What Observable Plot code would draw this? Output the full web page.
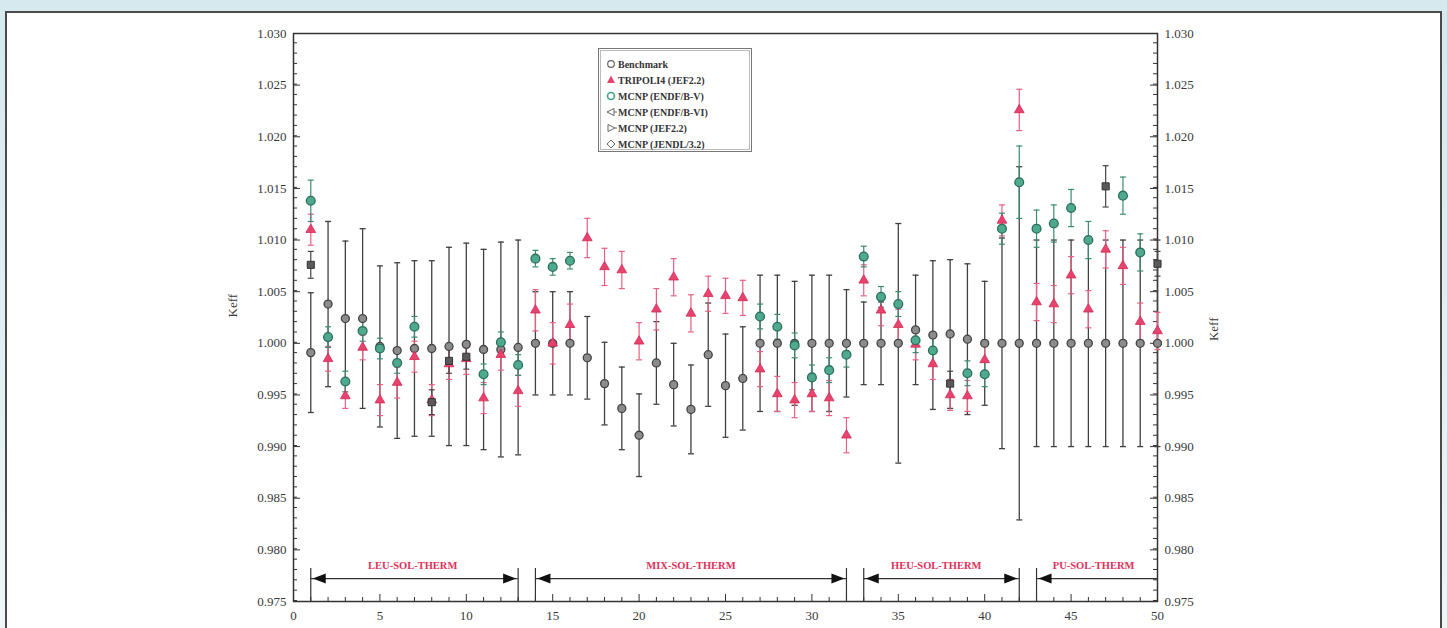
<!DOCTYPE html>
<html>
<head>
<meta charset="utf-8">
<script src="https://cdn.jsdelivr.net/npm/d3@7"></script>
<script src="https://cdn.jsdelivr.net/npm/@observablehq/plot@0.6"></script>
<style>
  html, body { margin: 0; padding: 0; }
  body { width: 1447px; height: 628px; overflow: hidden; position: relative;
         background: linear-gradient(180deg, #d5e9ee 0%, #e2f0f3 60%, #eef6f8 100%); font-family: 'Liberation Serif', 'Times New Roman', serif; }
  #panel { position: absolute; left: 5px; top: 11px; width: 1437px; height: 640px; background: #fff;
           border: 2px solid #4a4a4a; border-bottom: none; box-sizing: border-box; }
  #chart { position: absolute; left: 0; top: 0; }
  #legend { position: absolute; left: 598px; top: 48px; width: 154px; height: 104px; box-sizing: border-box;
            border: 1px solid #777; outline: 1px solid #bbb; outline-offset: -3px; background: #fff; }
  .row { position: absolute; left: 6px; height: 14px; display: flex; align-items: center; font-size: 10px; font-weight: bold; color: #333; white-space: nowrap; }
  .row svg { margin-right: 1px; }
</style>
</head>
<body>
<div id="panel"></div>
<div id="chart"></div>
<div id="legend"></div>
<script>
// ---- data ----
const cases = [1,2,3,4,5,6,7,8,9,10,11,12,13,14,15,16,17,18,19,20,21,22,23,24,25,26,27,28,29,30,31,32,33,34,35,36,37,38,39,40,41,42,43,44,45,46,47,48,49,50];

const benchmark = [0.9991,1.0038,1.0024,1.0024,0.9997,0.9993,0.9995,0.9995,0.9997,0.9999,0.9994,0.9994,0.9996,
  1.0000,1.0000,1.0000,0.9986,0.9961,0.9937,0.9911,0.9981,0.9960,0.9936,0.9989,0.9959,0.9966,1.0000,1.0000,1.0000,1.0000,1.0000,1.0000,
  1.0000,1.0000,1.0000,1.0013,1.0008,1.0009,1.0004,1.0000,
  1.0000,1.0000,1.0000,1.0000,1.0000,1.0000,1.0000,1.0000,1.0000,1.0000];
const benchmarkErr = [0.0058,0.0080,0.0075,0.0087,0.0078,0.0085,0.0085,0.0085,0.0096,0.0098,0.0097,0.0104,0.0104,
  0.0050,0.0050,0.0050,0.0040,0.0040,0.0040,0.0040,0.0040,0.0040,0.0043,0.0050,0.0050,0.0050,0.0066,0.0066,0.0060,0.0066,0.0066,0.0052,
  0.0040,0.0040,0.0116,0.0053,0.0072,0.0072,0.0073,0.0060,
  0.0102,0.0171,0.0100,0.0100,0.0100,0.0100,0.0100,0.0100,0.0100,0.0100];

const tripoli = [1.0110,0.9985,0.9949,0.9996,0.9945,0.9962,0.9987,0.9945,0.9980,0.9985,0.9947,0.9989,0.9954,
  1.0032,1.0000,1.0018,1.0102,1.0074,1.0071,1.0002,1.0033,1.0064,1.0029,1.0048,1.0046,1.0044,0.9975,0.9951,0.9945,0.9951,0.9947,0.9911,
  1.0061,1.0032,1.0018,0.9999,0.9980,0.9950,0.9949,0.9984,
  1.0119,1.0226,1.0040,1.0038,1.0066,1.0033,1.0091,1.0075,1.0021,1.0012];
const tripoliErr = [0.0015,0.0012,0.0012,0.0012,0.0015,0.0015,0.0015,0.0015,0.0015,0.0015,0.0015,0.0015,0.0015,
  0.0020,0.0020,0.0020,0.0019,0.0018,0.0018,0.0018,0.0020,0.0018,0.0018,0.0017,0.0017,0.0017,0.0017,0.0017,0.0017,0.0017,0.0017,0.0017,
  0.0015,0.0015,0.0015,0.0015,0.0015,0.0015,0.0015,0.0015,
  0.0015,0.0020,0.0018,0.0018,0.0018,0.0018,0.0018,0.0018,0.0018,0.0018];

const mcnpB5 = [1.0138,1.0006,0.9963,1.0012,0.9995,0.9981,1.0016,null,null,null,0.9970,1.0001,0.9979,
  1.0082,1.0074,1.0080,null,null,null,null,null,null,null,null,null,null,1.0026,1.0016,0.9998,0.9967,0.9974,0.9989,
  1.0084,1.0045,1.0038,1.0003,0.9993,null,0.9971,0.9970,
  1.0111,1.0156,1.0111,1.0116,1.0131,1.0100,null,1.0143,1.0088,null];
const mcnpB5Err = [0.0020,0.0010,0.0010,0.0010,0.0010,0.0010,0.0010,null,null,null,0.0010,0.0010,0.0010,
  0.0008,0.0008,0.0008,null,null,null,null,null,null,null,null,null,null,0.0012,0.0012,0.0012,0.0012,0.0012,0.0012,
  0.0010,0.0010,0.0012,0.0012,0.0012,null,0.0012,0.0012,
  0.0015,0.0035,0.0018,0.0018,0.0018,0.0018,null,0.0018,0.0018,null];

const jefCases = [1, 8, 9, 10, 38, 47, 50];
const mcnpJef = [1.0076, 0.9943, 0.9983, 0.9987, 0.9961, 1.0152, 1.0077];
const mcnpJefErr = [0.0013, 0.0012, 0.0012, 0.0012, 0.0012, 0.0020, 0.0012];

const seriesNames = ["Benchmark", "TRIPOLI4 (JEF2.2)", "MCNP (ENDF/B-V)", "MCNP (ENDF/B-VI)", "MCNP (JEF2.2)", "MCNP (JENDL/3.2)"];

const regionNames = ["LEU-SOL-THERM", "MIX-SOL-THERM", "HEU-SOL-THERM", "PU-SOL-THERM"];
const regionStart = [1, 14, 33, 43];
const regionEnd = [13, 32, 42, 50];
const regionLabelX = [6.9, 23.0, 37.2, 46.3];
const regionHeadRight = [true, true, true, false];
const boundaries = [1, 13, 14, 32, 33, 42, 43];

const xTicks = [0, 5, 10, 15, 20, 25, 30, 35, 40, 45, 50];
const yTicks = [0.975, 0.980, 0.985, 0.990, 0.995, 1.000, 1.005, 1.010, 1.015, 1.020, 1.025, 1.030];

// ---- tables ----
const bench = cases.map((c, i) => ({x: c, v: benchmark[i], e: benchmarkErr[i]}));
const trip = cases.map((c, i) => ({x: c, v: tripoli[i], e: tripoliErr[i]}));
const b5 = cases.map((c, i) => ({x: c, v: mcnpB5[i], e: mcnpB5Err[i]})).filter(d => d.v != null);
const jef = jefCases.map((c, i) => ({x: c, v: mcnpJef[i], e: mcnpJefErr[i]}));
const regions = regionNames.map((n, i) => ({name: n, start: regionStart[i], end: regionEnd[i], lx: regionLabelX[i], rh: regionHeadRight[i]}));

// ---- layout ----
const W = 1447, H = 628, mL = 293, mR = 290, mT = 33, mB = 27;
const pw = W - mL - mR, ph = H - mT - mB;
const serif = "'Liberation Serif', 'Times New Roman', serif";
const yMinor = d3.range(9751, 10300, 10).map(d => d / 10000).filter(d => !yTicks.some(t => Math.abs(t - d) < 1e-6));
const xMinor = d3.range(1, 50).filter(d => d % 5 !== 0);

const capSym = {draw(ctx, size) { const r = Math.sqrt(size / Math.PI); ctx.moveTo(-r, 0); ctx.lineTo(r, 0); }};
const headL = {draw(ctx) { ctx.moveTo(0, 0); ctx.lineTo(13, -5); ctx.lineTo(13, 5); ctx.closePath(); }};
const headR = {draw(ctx) { ctx.moveTo(0, 0); ctx.lineTo(-13, -5); ctx.lineTo(-13, 5); ctx.closePath(); }};

const ARROW_Y = 0.97722, LABEL_Y = 0.97848, BOUND_TOP = 0.97820;

function errMarks(data, color, width, capR) {
  return [
    Plot.ruleX(data, {x: "x", y1: d => d.v - d.e, y2: d => d.v + d.e, stroke: color, strokeWidth: width}),
    Plot.dot(data, {x: "x", y: d => d.v - d.e, symbol: capSym, r: capR, stroke: color, strokeWidth: width}),
    Plot.dot(data, {x: "x", y: d => d.v + d.e, symbol: capSym, r: capR, stroke: color, strokeWidth: width})
  ];
}

const chart = Plot.plot({
  width: W, height: H, marginLeft: mL, marginRight: mR, marginTop: mT, marginBottom: mB,
  style: {background: "transparent", fontFamily: serif, fontSize: "13px", color: "#333"},
  x: {domain: [0, 50]},
  y: {domain: [0.975, 1.030]},
  marks: [
    // axes text
    Plot.axisY({anchor: "left", ticks: yTicks, tickFormat: d3.format(".3f"), tickSize: 0, tickPadding: 7, label: null, fontSize: 13, fill: "#3a3a3a"}),
    Plot.axisY({anchor: "right", ticks: yTicks, tickFormat: d3.format(".3f"), tickSize: 0, tickPadding: 7, label: null, fontSize: 13, fill: "#3a3a3a"}),
    Plot.axisX({anchor: "bottom", ticks: xTicks, tickFormat: d3.format("d"), tickSize: 0, tickPadding: 9, label: null, fontSize: 13, fill: "#3a3a3a"}),
    Plot.text(["Keff"], {frameAnchor: "left", dx: -61, rotate: -90, fontSize: 13, fill: "#3a3a3a", fontFamily: serif}),
    Plot.text(["Keff"], {frameAnchor: "right", dx: 56, rotate: -90, fontSize: 13, fill: "#3a3a3a", fontFamily: serif}),
    // inward ticks
    Plot.tickY(yTicks, {y: d => d, insetRight: pw - 7, stroke: "#333"}),
    Plot.tickY(yMinor, {y: d => d, insetRight: pw - 4, stroke: "#333"}),
    Plot.tickY(yTicks, {y: d => d, insetLeft: pw - 7, stroke: "#333"}),
    Plot.tickY(yMinor, {y: d => d, insetLeft: pw - 4, stroke: "#333"}),
    Plot.tickX(xTicks, {x: d => d, insetTop: ph - 7, stroke: "#333"}),
    Plot.tickX(xMinor, {x: d => d, insetTop: ph - 4, stroke: "#333"}),
    Plot.frame({stroke: "#333", strokeWidth: 1.5}),
    // region annotations
    Plot.ruleX(boundaries, {x: d => d, y1: 0.975, y2: BOUND_TOP, stroke: "#333", strokeWidth: 1.2}),
    Plot.ruleY(regions, {y: () => ARROW_Y, x1: "start", x2: "end", stroke: "#333", strokeWidth: 1.2}),
    Plot.dot(regions, {x: "start", y: () => ARROW_Y, symbol: headL, r: 5, fill: "#111", stroke: "none", dx: 2}),
    Plot.dot(regions.filter(d => d.rh), {x: "end", y: () => ARROW_Y, symbol: headR, r: 5, fill: "#111", stroke: "none", dx: -2}),
    Plot.text(regions, {x: "lx", y: () => LABEL_Y, text: "name", fill: "#e0305a", fontSize: 10.5, fontWeight: "bold", fontFamily: serif}),
    // error bars
    ...errMarks(bench, "#404040", 1.3, 3),
    ...errMarks(trip, "#e8607f", 1.2, 3),
    ...errMarks(b5, "#3c8a74", 1.2, 3),
    ...errMarks(jef, "#444", 1.2, 3),
    // markers
    Plot.dot(bench, {x: "x", y: "v", symbol: "circle", r: 4, fill: "#8c8c8c", stroke: "#444", strokeWidth: 1.3}),
    Plot.dot(trip, {x: "x", y: "v", symbol: "triangle", r: 3.6, fill: "#e8436e", stroke: "#d02a55", strokeWidth: 0.8}),
    Plot.dot(b5, {x: "x", y: "v", symbol: "circle", r: 4.4, fill: "#4fa98f", stroke: "#2a6e5c", strokeWidth: 1.3}),
    Plot.dot(jef, {x: "x", y: "v", symbol: "square", r: 4, fill: "#5a5a5a", stroke: "#333", strokeWidth: 1})
  ]
});
document.getElementById("chart").appendChild(chart);

// ---- legend ----
const legendSymbols = [
  `<circle cx="6" cy="7" r="3.3" fill="#fff" stroke="#666" stroke-width="1.2"/>`,
  `<path d="M6,2.5 L10,10 L2,10 Z" fill="#e8436e"/>`,
  `<circle cx="6" cy="7" r="3.5" fill="#fff" stroke="#3fa487" stroke-width="1.6"/>`,
  `<path d="M2,7 L9,3.5 L9,10.5 Z" fill="none" stroke="#666" stroke-width="1"/><line x1="9" y1="7" x2="12" y2="7" stroke="#666"/>`,
  `<path d="M3,3.5 L10,7 L3,10.5 Z" fill="none" stroke="#666" stroke-width="1"/><line x1="10" y1="7" x2="12" y2="7" stroke="#666"/>`,
  `<path d="M6,3 L10,7 L6,11 L2,7 Z" fill="none" stroke="#666" stroke-width="1"/>`
];
const legend = document.getElementById("legend");
seriesNames.forEach((name, i) => {
  const row = document.createElement("div");
  row.className = "row";
  row.style.top = (8 + i * 16) + "px";
  row.innerHTML = `<svg width="12" height="14" viewBox="0 0 12 14">${legendSymbols[i]}</svg><span>${name}</span>`;
  legend.appendChild(row);
});
</script>
</body>
</html>
